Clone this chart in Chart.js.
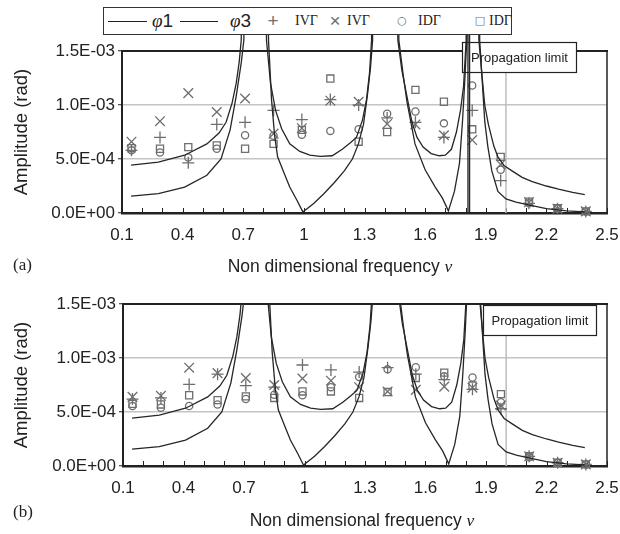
<!DOCTYPE html>
<html>
<head>
<meta charset="utf-8">
<script src="https://cdn.jsdelivr.net/npm/chart.js@4.4.1/dist/chart.umd.min.js"></script>
<style>
  body { margin: 0; width: 620px; height: 534px; position: relative; background: #fff; overflow: hidden;
         font-family: 'Liberation Sans', Arial, sans-serif; color: #222; }
  canvas { position: absolute; left: 0; }
  #legend { position: absolute; left: 103px; top: 7px; width: 409px; height: 28px; box-sizing: border-box;
            border: 1px solid #333; background: #fff; z-index: 2; }
  #legend span { position: absolute; top: 0; line-height: 26px; white-space: nowrap; }
  #legend .ln { top: 13px; height: 0; border-top: 1.3px solid #222; }
  .phi { font-size: 19px; }
  .phi i, .xt i { font-family: 'Liberation Serif', serif; }
  .sym { width: 18px; text-align: center; color: #6e6e6e; font-size: 19px; }
  .sym.small { font-family: 'DejaVu Sans', sans-serif; font-size: 11px; }
  .ser { font-family: 'Liberation Serif', serif; font-size: 14px; }
  .xt { position: absolute; font-size: 17.5px; line-height: 18px; white-space: nowrap; transform: translateX(-50%); }
  .pl { position: absolute; left: 13px; font-family: 'Liberation Serif', serif; font-size: 17px; line-height: 17px; }
</style>
</head>
<body>
<canvas id="chartA" width="620" height="270" style="top:0"></canvas>
<canvas id="chartB" width="620" height="264" style="top:270px"></canvas>

<div id="legend">
  <span class="ln" style="left:4px;width:39px"></span>
  <span class="phi" style="left:48px"><i>φ</i>1</span>
  <span class="ln" style="left:76px;width:38px"></span>
  <span class="phi" style="left:126px"><i>φ</i>3</span>
  <span class="sym" style="left:160px">+</span>
  <span class="ser" style="left:191px">IVΓ</span>
  <span class="sym" style="left:222px">×</span>
  <span class="ser" style="left:243px">IVΓ</span>
  <span class="sym small" style="left:289px">○</span>
  <span class="ser" style="left:314px">IDΓ</span>
  <span class="sym small" style="left:367px">□</span>
  <span class="ser" style="left:385px">IDΓ</span>
</div>

<div class="pl" style="top:256px">(a)</div>
<div class="xt" style="left:340px;top:257px">Non dimensional frequency <i>v</i></div>
<div class="pl" style="top:503px">(b)</div>
<div class="xt" style="left:362px;top:511px">Non dimensional frequency <i>v</i></div>

<script>
// computed curves [nu, amplitude] (peaks go far above the axis)
const phi1 = [[0.145, 4.44e-4], [0.28, 4.72e-4], [0.41, 5.35e-4], [0.52, 6.4e-4], [0.58, 7.4e-4],
  [0.615, 8.4e-4], [0.645, 1.02e-3], [0.665, 1.2e-3], [0.68, 1.4e-3], [0.69, 1.6e-3], [0.755, 2e-2],
  [0.815, 1.6e-3], [0.835, 1.2e-3], [0.86, 9.5e-4], [0.89, 7.8e-4], [0.93, 6.4e-4], [0.98, 5.7e-4],
  [1.03, 5.35e-4], [1.08, 5.25e-4], [1.14, 5.3e-4], [1.19, 5.9e-4], [1.23, 6.5e-4], [1.26, 7.0e-4],
  [1.29, 8.6e-4], [1.31, 1.05e-3], [1.325, 1.3e-3], [1.335, 1.6e-3], [1.40, 2e-2], [1.465, 1.6e-3],
  [1.485, 1.32e-3], [1.51, 1.08e-3], [1.535, 8.4e-4], [1.56, 7.0e-4], [1.59, 6.1e-4], [1.63, 5.5e-4],
  [1.67, 5.3e-4], [1.70, 5.35e-4], [1.73, 5.9e-4], [1.755, 7.5e-4], [1.775, 9.5e-4], [1.79, 1.17e-3],
  [1.803, 1.6e-3], [1.84, 2e-2], [1.87, 1.6e-3], [1.88, 1.3e-3], [1.895, 1.0e-3], [1.913, 8.2e-4],
  [1.94, 6.2e-4], [1.96, 5.2e-4], [1.99, 4.4e-4], [2.03, 3.9e-4], [2.08, 3.3e-4], [2.13, 2.9e-4],
  [2.2, 2.5e-4], [2.26, 2.2e-4], [2.33, 1.9e-4], [2.39, 1.7e-4]]
const phi3 = [[0.145, 1.56e-4], [0.28, 1.8e-4], [0.41, 2.4e-4], [0.52, 3.5e-4], [0.59, 5.0e-4],
  [0.635, 7.7e-4], [0.665, 1.08e-3], [0.69, 1.39e-3], [0.703, 1.6e-3], [0.76, 2e-2], [0.825, 1.6e-3],
  [0.84, 1.05e-3], [0.855, 7.2e-4], [0.87, 5.2e-4], [0.9, 3.8e-4], [0.93, 2.4e-4], [0.965, 1.2e-4],
  [0.995, 1e-5], [1.05, 9e-5], [1.1, 1.8e-4], [1.15, 2.8e-4], [1.2, 3.9e-4], [1.24, 5.0e-4],
  [1.27, 6.4e-4], [1.295, 8.2e-4], [1.315, 1.1e-3], [1.33, 1.35e-3], [1.34, 1.6e-3], [1.405, 2e-2],
  [1.47, 1.6e-3], [1.49, 1.3e-3], [1.51, 1.03e-3], [1.55, 6.4e-4], [1.6, 4.0e-4], [1.65, 2.4e-4],
  [1.685, 1.4e-4], [1.715, 2e-5], [1.745, 2.0e-4], [1.77, 4.6e-4], [1.785, 8.5e-4], [1.797, 1.25e-3],
  [1.806, 1.6e-3], [1.84, 2e-2], [1.866, 1.6e-3], [1.88, 1.3e-3], [1.895, 8.5e-4], [1.91, 6.2e-4],
  [1.93, 3.9e-4], [1.96, 2.0e-4], [2.0, 1.3e-4], [2.05, 1.0e-4], [2.1, 8e-5], [2.2, 4e-5],
  [2.3, 2e-5], [2.39, 1e-5]]
// sharp anti-resonance only present in panel (a)
const spikeA = [[1.811, 2e-2], [1.812, 0], [1.819, 0], [1.82, 2e-2]]

// measured points
const nuTest = [0.147, 0.288, 0.428, 0.569, 0.709, 0.850, 0.990, 1.131, 1.271, 1.412, 1.552, 1.693,
  1.833, 1.974, 2.114, 2.255, 2.395]
const plusA = [5.8e-4, 7.0e-4, 4.65e-4, 8.2e-4, 8.4e-4, 9.5e-4, 8.65e-4, 1.05e-3, 1.0e-3, 8.8e-4,
  8.4e-4, 7.0e-4, 9.5e-4, 3.0e-4, 9e-5, 4e-5, 1.5e-5]
const crossA = [6.6e-4, 8.5e-4, 1.11e-3, 9.35e-4, 1.06e-3, 7.35e-4, 7.85e-4, 1.04e-3, 1.03e-3, 8.25e-4,
  8.2e-4, 7.2e-4, 6.75e-4, 4.5e-4, 1.0e-4, 4e-5, 1.5e-5]
const circleA = [5.8e-4, 5.6e-4, 5.15e-4, 5.95e-4, 7.2e-4, 7.15e-4, 7.25e-4, 7.6e-4, 7.75e-4, 9.2e-4,
  9.4e-4, 8.3e-4, 1.18e-3, 4.0e-4, 9e-5, 4e-5, 1.5e-5]
const squareA = [6.0e-4, 5.95e-4, 6.1e-4, 6.25e-4, 5.95e-4, 6.4e-4, 7.7e-4, 1.245e-3, 6.6e-4, 7.5e-4,
  1.14e-3, 1.03e-3, 7.75e-4, 5.2e-4, 1.05e-4, 4.5e-5, 1.5e-5]
const plusB = [6.2e-4, 6.3e-4, 7.55e-4, 8.5e-4, 7.45e-4, 7.3e-4, 9.35e-4, 8.9e-4, 8.7e-4, 9.1e-4,
  8.5e-4, 8.0e-4, 7.1e-4, 5.3e-4, 9e-5, 3e-5, 1.5e-5]
const crossB = [6.4e-4, 6.5e-4, 9.1e-4, 8.6e-4, 8.15e-4, 7.5e-4, 8.1e-4, 7.9e-4, 7.3e-4, 6.9e-4,
  7.05e-4, 7.35e-4, 7.25e-4, 5.6e-4, 9e-5, 3e-5, 1.5e-5]
const circleB = [5.55e-4, 5.4e-4, 5.55e-4, 5.7e-4, 6.2e-4, 6.6e-4, 6.55e-4, 7.3e-4, 8.25e-4, 8.95e-4,
  9.15e-4, 8.3e-4, 8.2e-4, 5.9e-4, 8e-5, 3e-5, 1.5e-5]
const squareB = [5.75e-4, 5.7e-4, 6.55e-4, 6.1e-4, 6.45e-4, 6.3e-4, 6.9e-4, 6.9e-4, 6.3e-4, 6.85e-4,
  8.15e-4, 8.65e-4, 7.45e-4, 6.65e-4, 9e-5, 3e-5, 1.5e-5]

const xTickLabels = ['0.1', '0.4', '0.7', '1', '1.3', '1.6', '1.9', '2.2', '2.5']
const yTickLabels = ['0.0E+00', '5.0E-04', '1.0E-03', '1.5E-03']
const limitNu = 2.0

Chart.defaults.font.family = "'Liberation Sans', Arial, sans-serif"
Chart.defaults.color = '#222'
const markerColor = '#6e6e6e'

// frame, inward x ticks and the propagation limit marker
const framePlugin = {
  id: 'frame',
  beforeDatasetsDraw(chart, args, opts) {
    const { ctx, chartArea: a, scales: { x } } = chart
    ctx.save()
    ctx.strokeStyle = '#222'
    ctx.lineWidth = 2
    ctx.beginPath(); ctx.moveTo(a.left, a.top); ctx.lineTo(a.right + 1, a.top); ctx.stroke()
    ctx.lineWidth = 1.5
    ctx.beginPath(); ctx.moveTo(a.right, a.top); ctx.lineTo(a.right, a.bottom); ctx.stroke()
    ctx.lineWidth = 1
    ctx.beginPath()
    x.ticks.forEach(t => {
      const px = Math.round(x.getPixelForValue(t.value)) + 0.5
      ctx.moveTo(px, a.bottom)
      ctx.lineTo(px, a.bottom - 5)
    })
    ctx.stroke()

    const lx = x.getPixelForValue(limitNu)
    const bx = Math.round(lx + opts.dx) + 0.5, by = Math.round(a.top + opts.dy) + 0.5, bh = 30
    ctx.strokeStyle = '#bdbdbd'
    ctx.lineWidth = 1.5
    ctx.beginPath(); ctx.moveTo(lx, by + bh); ctx.lineTo(lx, a.bottom); ctx.stroke()
    ctx.fillStyle = '#fff'
    ctx.fillRect(bx, by, opts.w, bh)
    ctx.strokeStyle = '#222'
    ctx.lineWidth = 1.2
    ctx.strokeRect(bx, by, opts.w, bh)
    ctx.fillStyle = '#222'
    ctx.font = "13px 'Liberation Sans', Arial, sans-serif"
    ctx.textAlign = 'center'
    ctx.textBaseline = 'middle'
    ctx.fillText('Propagation limit', bx + opts.w / 2, by + bh / 2 + 1)
    ctx.restore()
  }
}

function pairs(arr) {
  return arr.map(([x, y]) => ({ x, y }))
}

function curveSet(data, clipTop) {
  return {
    data: pairs(data), showLine: true, borderColor: '#262626', borderWidth: 1.3,
    pointRadius: 0, pointHoverRadius: 0, tension: 0,
    clip: { left: 0, top: clipTop, right: 0, bottom: 0 }
  }
}

function markerSet(ys, style, r) {
  return {
    data: nuTest.map((x, i) => ({ x, y: ys[i] })), showLine: false,
    pointStyle: style, pointRadius: r, pointHoverRadius: r,
    borderColor: markerColor, backgroundColor: 'rgba(0,0,0,0)', pointBorderWidth: 1.3, clip: false
  }
}

function makeChart(id, datasets, lay) {
  return new Chart(document.getElementById(id), {
    type: 'scatter',
    data: { datasets },
    plugins: [framePlugin],
    options: {
      responsive: false,
      animation: false,
      events: [],
      layout: { autoPadding: false, padding: { top: lay.top, right: 13, bottom: 0, left: 0 } },
      plugins: { legend: { display: false }, tooltip: { enabled: false }, frame: lay.box },
      scales: {
        x: {
          type: 'linear', min: 0.1, max: 2.5,
          afterFit: s => { s.height = lay.xh; s.paddingLeft = 0; s.paddingRight = 0 },
          grid: { drawOnChartArea: false, drawTicks: false },
          border: { color: '#222', width: 2.5 },
          ticks: {
            stepSize: 0.1, autoSkip: false, maxRotation: 0, padding: 12, color: '#222', font: { size: 17 },
            callback: v => {
              const s = String(+(+v).toFixed(1))
              return xTickLabels.includes(s) ? s : ''
            }
          }
        },
        y: {
          min: 0, max: 1.5e-3,
          afterFit: s => { s.width = lay.yw; s.paddingTop = 0; s.paddingBottom = 0 },
          grid: {
            color: c => (c.tick && (c.tick.value <= 0 || c.tick.value >= 1.5e-3 - 1e-9)) ? 'rgba(0,0,0,0)' : '#c4c4c4',
            lineWidth: 1.5, tickColor: '#222', tickLength: 4, tickWidth: 1
          },
          border: { color: '#222', width: 2 },
          ticks: { stepSize: 5e-4, padding: 3, color: '#222', font: { size: 17 }, callback: (v, i) => yTickLabels[i] },
          title: { display: true, text: 'Amplitude (rad)', color: '#222', font: { size: 18.5 }, padding: { top: 11, bottom: 0 } }
        }
      }
    }
  })
}

makeChart('chartA', [
  curveSet(phi1, 16),
  curveSet(phi3, 16),
  curveSet(spikeA, 16),
  markerSet(plusA, 'cross', 6),
  markerSet(crossA, 'crossRot', 6.8),
  markerSet(circleA, 'circle', 3.6),
  markerSet(squareA, 'rect', 5)
], { top: 51, xh: 57, yw: 122, box: { dx: -44, dy: -9, w: 114 } })

makeChart('chartB', [
  curveSet(phi1, 0),
  curveSet(phi3, 0),
  markerSet(plusB, 'cross', 6),
  markerSet(crossB, 'crossRot', 6.8),
  markerSet(circleB, 'circle', 3.6),
  markerSet(squareB, 'rect', 5)
], { top: 34, xh: 68, yw: 123, box: { dx: -23, dy: 1, w: 113 } })
</script>
</body>
</html>
